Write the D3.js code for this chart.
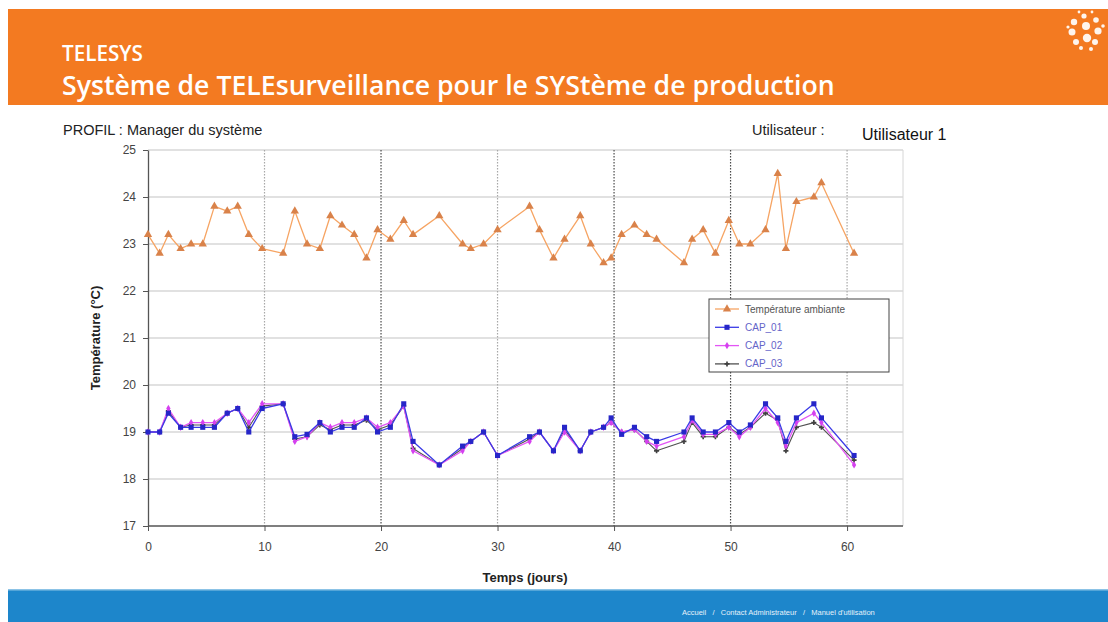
<!DOCTYPE html>
<html>
<head>
<meta charset="utf-8">
<script src="https://cdn.jsdelivr.net/npm/d3@7"></script>
<style>
  html, body { margin: 0; padding: 0; background: #ffffff; }
  svg { display: block; }
</style>
</head>
<body>
<svg id="chart" width="1108" height="622"></svg>
<script>
// Sampling days (fractional), shared by all series
const days = [0, 1, 1.75, 2.8, 3.7, 4.7, 5.7, 6.8, 7.7, 8.65,
  9.8, 11.6, 12.6, 13.65, 14.75, 15.65, 16.65, 17.7, 18.75, 19.7,
  20.8, 21.95, 22.75, 25.0, 27.0, 27.7, 28.8, 30.0, 32.75, 33.6,
  34.8, 35.75, 37.1, 38.0, 39.1, 39.75, 40.65, 41.75, 42.8, 43.65,
  46.0, 46.7, 47.65, 48.7, 49.85, 50.75, 51.7, 53.0, 54.05, 54.75,
  55.65, 57.15, 57.8, 60.6];

// Ambient temperature (°C)
const ambiante = [23.2, 22.8, 23.2, 22.9, 23.0, 23.0, 23.8, 23.7, 23.8, 23.2,
  22.9, 22.8, 23.7, 23.0, 22.9, 23.6, 23.4, 23.2, 22.7, 23.3,
  23.1, 23.5, 23.2, 23.6, 23.0, 22.9, 23.0, 23.3, 23.8, 23.3,
  22.7, 23.1, 23.6, 23.0, 22.6, 22.7, 23.2, 23.4, 23.2, 23.1,
  22.6, 23.1, 23.3, 22.8, 23.5, 23.0, 23.0, 23.3, 24.5, 22.9,
  23.9, 24.0, 24.3, 22.8];

// Sensor readings (°C)
const cap01 = [19.0, 19.0, 19.4, 19.1, 19.1, 19.1, 19.1, 19.4, 19.5, 19.0,
  19.5, 19.6, 18.9, 18.95, 19.2, 19.0, 19.1, 19.1, 19.3, 19.0,
  19.1, 19.6, 18.8, 18.3, 18.7, 18.8, 19.0, 18.5, 18.9, 19.0,
  18.6, 19.1, 18.6, 19.0, 19.1, 19.3, 18.95, 19.1, 18.9, 18.8,
  19.0, 19.3, 19.0, 19.0, 19.2, 19.0, 19.15, 19.6, 19.3, 18.8,
  19.3, 19.6, 19.3, 18.5];

const cap02 = [19.0, 19.0, 19.5, 19.1, 19.2, 19.2, 19.2, 19.4, 19.5, 19.2,
  19.6, 19.6, 18.8, 18.9, 19.2, 19.1, 19.2, 19.2, 19.3, 19.1,
  19.2, 19.55, 18.6, 18.3, 18.6, 18.8, 19.0, 18.5, 18.8, 19.0,
  18.6, 19.0, 18.6, 19.0, 19.1, 19.2, 19.0, 19.05, 18.8, 18.7,
  18.9, 19.25, 18.95, 18.95, 19.1, 18.9, 19.1, 19.5, 19.2, 18.7,
  19.2, 19.4, 19.2, 18.3];

const cap03 = [19.0, 19.0, 19.45, 19.1, 19.15, 19.15, 19.15, 19.4, 19.5, 19.1,
  19.55, 19.6, 18.85, 18.9, 19.15, 19.05, 19.15, 19.15, 19.25, 19.05,
  19.15, 19.55, 18.65, 18.3, 18.65, 18.8, 19.0, 18.5, 18.85, 19.0,
  18.6, 19.05, 18.6, 19.0, 19.1, 19.2, 19.0, 19.05, 18.8, 18.6,
  18.8, 19.2, 18.9, 18.9, 19.1, 18.95, 19.1, 19.4, 19.25, 18.6,
  19.1, 19.2, 19.1, 18.4];

const xTicks = [0, 10, 20, 30, 40, 50, 60];
const yTicks = [17, 18, 19, 20, 21, 22, 23, 24, 25];
const seriesNames = ["Température ambiante", "CAP_01", "CAP_02", "CAP_03"];

const svg = d3.select("#chart");

// ---------- page header ----------
svg.append("rect").attr("x", 8).attr("y", 9).attr("width", 1100).attr("height", 96)
  .attr("fill", "#f37a21");

const headFont = "'Open Sans', Lato, sans-serif";
function fitWidth(sel, base, target) {
  const w = sel.node().getComputedTextLength();
  sel.attr("font-size", base * target / w);
}

const title = svg.append("text").attr("x", 62).attr("y", 61)
  .attr("font-family", headFont).attr("font-weight", 600)
  .attr("font-size", 18).attr("fill", "#ffffff").text("TELESYS");
fitWidth(title, 18, 81);

const subtitle = svg.append("text").attr("x", 62).attr("y", 95)
  .attr("font-family", headFont).attr("font-weight", 600)
  .attr("font-size", 20).attr("fill", "#ffffff")
  .text("Système de TELEsurveillance pour le SYStème de production");
fitWidth(subtitle, 20, 773);

// logo: a ball of white dots
const logo = svg.append("g").attr("transform", "translate(1086,30)");
const dots = [[-12,-8,3.2],[-14,2,3.5],[-10,12,3],[-2,-14,2.6],[0,-4,4],[1,8,4.2],
  [10,-10,2.8],[12,1,3.6],[9,12,3],[-5,18,2],[5,19,2],[-18,-3,1.6],[17,-4,1.8],[-7,-18,1.4],[6,-18,1.4]];
logo.selectAll("circle").data(dots).join("circle")
  .attr("cx", d => d[0]).attr("cy", d => d[1]).attr("r", d => d[2])
  .attr("fill", "#ffffff").attr("opacity", 0.92);

// ---------- profile line ----------
svg.append("text").attr("x", 63).attr("y", 135)
  .attr("font-family", "Arial, 'Liberation Sans', sans-serif").attr("font-size", 14.5)
  .attr("fill", "#222").text("PROFIL : Manager du système");
svg.append("text").attr("x", 752).attr("y", 135)
  .attr("font-family", "Arial, 'Liberation Sans', sans-serif").attr("font-size", 14.5)
  .attr("fill", "#222").text("Utilisateur :");
svg.append("text").attr("x", 862).attr("y", 140)
  .attr("font-family", "Arial, 'Liberation Sans', sans-serif").attr("font-size", 16)
  .attr("fill", "#111").text("Utilisateur 1");

// ---------- footer ----------
svg.append("rect").attr("x", 8).attr("y", 589).attr("width", 1100).attr("height", 33)
  .attr("fill", "#1d86cb");
svg.append("rect").attr("x", 8).attr("y", 589).attr("width", 1100).attr("height", 1.5)
  .attr("fill", "#8cc3e6");
svg.append("text").attr("x", 682).attr("y", 615)
  .attr("font-family", "Arial, 'Liberation Sans', sans-serif").attr("font-size", 7.5)
  .attr("fill", "#e6f1fa")
  .text("Accueil   /   Contact Administrateur   /   Manuel d'utilisation")
  .attr("xml:space", "preserve").style("white-space", "pre");

// ---------- chart ----------
const x = d3.scaleLinear().domain([0, 64.8]).range([148, 903]);
const y = d3.scaleLinear().domain([17, 25]).range([526, 150]);

const plot = svg.append("g");

// horizontal grid
plot.selectAll("line.hgrid").data(yTicks.slice(1)).join("line").attr("class", "hgrid")
  .attr("x1", x(0)).attr("x2", x(64.8))
  .attr("y1", d => y(d)).attr("y2", d => y(d))
  .attr("stroke", "#c4c4c4").attr("stroke-width", 1.2);

// vertical grid (dotted)
const darkGrid = new Set([20, 40, 50]);
plot.selectAll("line.vgrid").data(xTicks.slice(1)).join("line").attr("class", "vgrid")
  .attr("x1", d => x(d)).attr("x2", d => x(d))
  .attr("y1", y(25)).attr("y2", y(17))
  .attr("stroke", d => darkGrid.has(d) ? "#4a4a4a" : "#a8a8a8")
  .attr("stroke-width", 1.2).attr("stroke-dasharray", "1.5,1.5");

// right frame edge
plot.append("line").attr("x1", x(64.8)).attr("x2", x(64.8)).attr("y1", y(25)).attr("y2", y(17))
  .attr("stroke", "#d6d6d6").attr("stroke-width", 1);

// axes
const axisFont = "Arial, 'Liberation Sans', sans-serif";
const xAxis = plot.append("g").attr("transform", `translate(0,${y(17)})`)
  .call(d3.axisBottom(x).tickValues(xTicks).tickSize(5).tickPadding(11).tickSizeOuter(0));
const yAxis = plot.append("g").attr("transform", `translate(${x(0)},0)`)
  .call(d3.axisLeft(y).tickValues(yTicks).tickSize(5).tickPadding(7).tickSizeOuter(0));
[xAxis, yAxis].forEach(a => {
  a.select(".domain").attr("stroke", "#555").attr("stroke-width", 1.3);
  a.selectAll(".tick line").attr("stroke", "#555");
  a.selectAll(".tick text").attr("font-family", axisFont).attr("font-size", 12).attr("fill", "#444");
});
xAxis.select(".domain").attr("d", `M${x(0)},0H${x(64.8)}`);

// axis titles
svg.append("text").attr("x", 525).attr("y", 582).attr("text-anchor", "middle")
  .attr("font-family", axisFont).attr("font-weight", "bold").attr("font-size", 13)
  .attr("fill", "#222").text("Temps (jours)");
svg.append("text").attr("transform", "translate(100,338) rotate(-90)").attr("text-anchor", "middle")
  .attr("font-family", axisFont).attr("font-weight", "bold").attr("font-size", 13)
  .attr("fill", "#222").text("Température (°C)");

// series
const series = [
  { name: seriesNames[0], values: ambiante, line: "#f6a463", mark: "#d9824a", sym: d3.symbolTriangle, size: 30, width: 1.3 },
  { name: seriesNames[3], values: cap03, line: "#505050", mark: "#404040", sym: d3.symbolCross, size: 14, width: 1.1 },
  { name: seriesNames[2], values: cap02, line: "#e355f5", mark: "#d540ef", sym: d3.symbolDiamond, size: 16, width: 1.3 },
  { name: seriesNames[1], values: cap01, line: "#3a3ae6", mark: "#2626c8", sym: d3.symbolSquare, size: 26, width: 1.3 }
];

const lineGen = d3.line().x(d => x(d[0])).y(d => y(d[1]));

series.forEach(s => {
  const pts = days.map((d, i) => [d, s.values[i]]);
  plot.append("path").datum(pts).attr("d", lineGen)
    .attr("fill", "none").attr("stroke", s.line).attr("stroke-width", s.width)
    .attr("stroke-linejoin", "round");
  plot.append("g").selectAll("path").data(pts).join("path")
    .attr("transform", d => `translate(${x(d[0])},${y(d[1])})`)
    .attr("d", d3.symbol().type(s.sym).size(s.size))
    .attr("fill", s.mark);
});

// legend
const legend = svg.append("g").attr("transform", "translate(709,299)");
legend.append("rect").attr("width", 180).attr("height", 73)
  .attr("fill", "#ffffff").attr("stroke", "#444").attr("stroke-width", 1);
const legendItems = [series[0], series[3], series[2], series[1]];
legendItems.forEach((s, i) => {
  const ly = 10 + i * 18.3;
  const g = legend.append("g").attr("transform", `translate(0,${ly})`);
  g.append("line").attr("x1", 6).attr("x2", 30).attr("y1", 0).attr("y2", 0)
    .attr("stroke", s.line).attr("stroke-width", 1.3);
  g.append("path").attr("transform", "translate(18,0)")
    .attr("d", d3.symbol().type(s.sym).size(s.size)).attr("fill", s.mark);
  g.append("text").attr("x", 36).attr("y", 3.5)
    .attr("font-family", axisFont).attr("font-size", 10)
    .attr("fill", i === 0 ? "#555" : "#6464c8").text(s.name);
});
</script>
</body>
</html>
